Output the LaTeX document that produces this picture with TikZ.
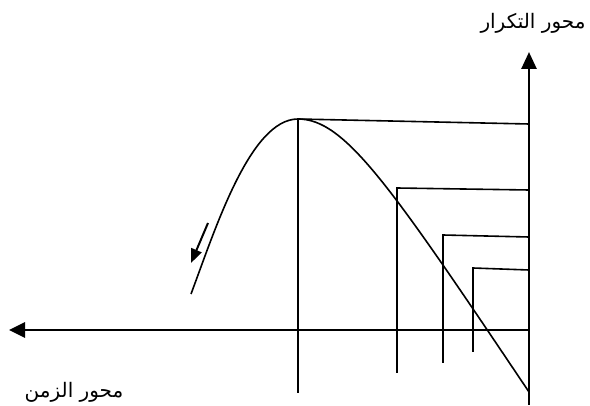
\documentclass[tikz,border=0pt]{standalone}
\usepackage{fontspec}
\newfontfamily\arabicfont[Script=Arabic]{DejaVu Sans}
\TeXXeTstate=1
\usetikzlibrary{arrows.meta}

\begin{document}
\begin{tikzpicture}[x=1pt,y=-1pt]
  \useasboundingbox (0,0) rectangle (590,406);
     %axes
  \coordinate (O) at (529,330);
  \coordinate (YT) at (529,52);
  \coordinate (YB) at (529,405);
  \coordinate (XL) at (9,330);
  \draw[line width=2.7pt,-{Triangle[length=17pt,width=15pt]}] (YB) -- (YT);
  \draw[line width=2.7pt,-{Triangle[length=16pt,width=15pt]}] (O) -- (XL);
  \node[font=\arabicfont\fontsize{20}{24}\selectfont] (freq) at (533,23) {\beginR محور التكرار\endR};
  \node[font=\arabicfont\fontsize{20}{24}\selectfont] (time) at (74,392) {\beginR محور الزمن\endR};

%curve
  \coordinate (CL) at (191,294);
  \coordinate (CP) at (298,119);
  \coordinate (CR) at (529,392);
  \draw[line width=1.6pt] (CL) .. controls (215,230) and (250,119) .. (CP)
     .. controls (345,119) and (390,185) .. (CR);
  \coordinate (AS) at (208,223);
  \coordinate (AE) at (191,263);
  \draw[line width=2pt,-{Triangle[length=14pt,width=11pt]}] (AS) -- (AE);

%levels
  \coordinate (PB) at (298,393);
  \coordinate (PR) at (529,124);
  \draw[line width=1.6pt] (PB) -- (CP) -- (PR);
  \coordinate (L1B) at (397,373);
  \coordinate (L1T) at (397,188);
  \coordinate (L1R) at (529,190);
  \coordinate (L2B) at (443,363);
  \coordinate (L2T) at (443,235);
  \coordinate (L2R) at (529,237);
  \coordinate (L3B) at (473,352);
  \coordinate (L3T) at (473,268);
  \coordinate (L3R) at (529,270);
  \draw[line width=1.6pt] (L1B) -- (L1T) -- (L1R);
  \draw[line width=1.6pt] (L2B) -- (L2T) -- (L2R);
  \draw[line width=1.6pt] (L3B) -- (L3T) -- (L3R);

\end{tikzpicture}
\end{document}
